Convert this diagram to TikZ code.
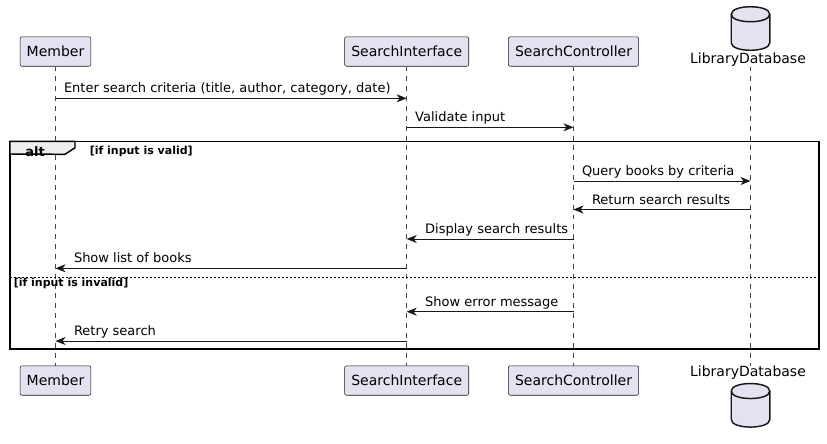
\documentclass[tikz,border=0pt]{standalone}
\usepackage{fontspec}
\setmainfont{DejaVu Sans}
\usetikzlibrary{positioning,arrows.meta,shapes.geometric,calc}
\definecolor{umlfill}{HTML}{E2E2F0}
\definecolor{umlline}{HTML}{181818}
\definecolor{tabfill}{HTML}{EEEEEE}
\tikzset{
    every node/.style={font=\fontsize{9.75}{11}\selectfont},
    actorbox/.style={rectangle,rounded corners=1.5pt,draw=umlline,fill=umlfill,line width=0.4pt,minimum height=22.1pt,inner xsep=5pt,font=\fontsize{10.5}{12}\selectfont},
    dbbody/.style={rectangle,minimum width=28.5pt,minimum height=21pt,inner sep=0pt},
    dbline/.style={draw=umlline,fill=umlfill,line width=1.1pt},
    dblabel/.style={inner sep=0pt,font=\fontsize{10.5}{12}\selectfont},
    lifeline/.style={draw=umlline!80,line width=0.4pt,dash pattern=on 3.7pt off 3.7pt},
    msg/.style={draw=umlline,line width=0.75pt,arrows={-Stealth[length=7.5pt,width=6pt,inset=2.2pt]}},
    msgback/.style={draw=umlline,line width=0.75pt,arrows={Stealth[length=7.5pt,width=6pt,inset=2.2pt]-}},
    lblr/.style={pos=0,anchor=base west,inner sep=0pt,xshift=6pt,yshift=4pt},
    lbll/.style={pos=0,anchor=base west,inner sep=0pt,xshift=13.5pt,yshift=4pt},
    altframe/.style={draw=black,line width=1.1pt},
    alttab/.style={draw=black,fill=tabfill,line width=1.1pt},
    altname/.style={font=\fontsize{9.75}{11}\selectfont\bfseries,inner sep=0pt},
    guard/.style={font=\fontsize{8.25}{10}\selectfont\bfseries,inner sep=0pt},
    altsep/.style={draw=black,line width=0.5pt,dash pattern=on 1.5pt off 1.5pt}
}
\begin{document}
\begin{tikzpicture}[x=0.75pt,y=-0.75pt]
    \useasboundingbox (0,0) rectangle (827,443);
    % participants, top
    \node[actorbox] (mem) at (55.5,51.5) {Member};
    \node[actorbox] (si) at (406.7,51.5) {SearchInterface};
    \node[actorbox] (sc) at (573.5,51.5) {SearchController};
    \node[dbbody] (db) at (750.5,28.5) {};
    \node[dblabel] (dbt) at (748,60) {LibraryDatabase};
    % participants, bottom
    \node[actorbox] (memb) at (55.5,380.5) {Member};
    \node[actorbox] (sib) at (406.7,380.5) {SearchInterface};
    \node[actorbox] (scb) at (573.5,380.5) {SearchController};
    \node[dblabel] (dbtb) at (748,373) {LibraryDatabase};
    \node[dbbody] (dbb) at (750.5,405.3) {};
    % database drums
    \foreach \d in {db,dbb} {
        \draw[dbline] (\d.north west) .. controls +(0,-10) and +(0,-10) .. (\d.north east)
            -- (\d.south east) .. controls +(0,10) and +(0,10) .. (\d.south west) -- cycle;
        \draw[dbline,fill=none] (\d.north west) .. controls +(0,10) and +(0,10) .. (\d.north east);
    }
    % lifelines
    \draw[lifeline] (mem) -- (memb);
    \draw[lifeline] (si) -- (sib);
    \draw[lifeline] (sc) -- (scb);
    \draw[lifeline] (db |- mem.south) -- (dbb |- memb.north);
    % alt block
    \coordinate (altnw) at (10,141.3);
    \coordinate (altse) at (819,349);
    \draw[altframe] (altnw) rectangle (altse);
    \draw[alttab] (altnw) -- ++(65,0) -- ++(0,6.5) -- ++(-10,6.5) -- (altnw |- 0,154) -- cycle;
    \node[altname,anchor=west] (alt) at (25,151.2) {alt};
    \node[guard,anchor=west] (gvalid) at (89.5,151.2) {[if input is valid]};
    \draw[altsep] (altnw |- 0,277.3) -- (altse |- 0,277.3);
    \node[guard,anchor=west] (ginvalid) at (13.5,283.5) {[if input is invalid]};
    % messages
    \draw[msg] (mem |- 0,98.3) -- node[lblr] {Enter search criteria (title, author, category, date)} (si |- 0,98.3);
    \draw[msg] (si |- 0,127.3) -- node[lblr] {Validate input} (sc |- 0,127.3);
    \draw[msg] (sc |- 0,181) -- node[lblr] {Query books by criteria} (db |- 0,181);
    \draw[msgback] (sc |- 0,209.5) -- node[lbll] {Return search results} (db |- 0,209.5);
    \draw[msgback] (si |- 0,239) -- node[lbll] {Display search results} (sc |- 0,239);
    \draw[msgback] (mem |- 0,268.3) -- node[lbll] {Show list of books} (si |- 0,268.3);
    \draw[msgback] (si |- 0,311.7) -- node[lbll] {Show error message} (sc |- 0,311.7);
    \draw[msgback] (mem |- 0,341) -- node[lbll] {Retry search} (si |- 0,341);
\end{tikzpicture}
\end{document}
